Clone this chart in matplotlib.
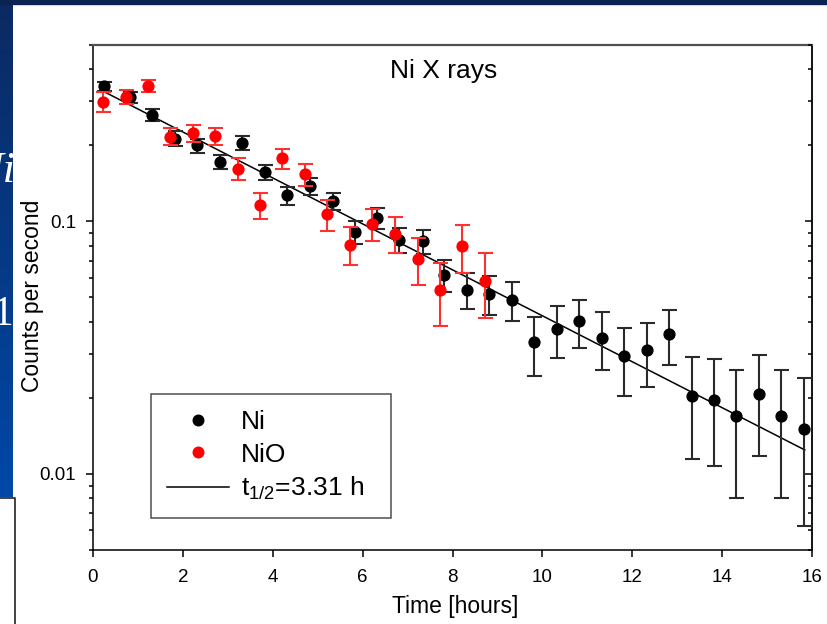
import numpy as np
import matplotlib
matplotlib.use("Agg")
import matplotlib.pyplot as plt
from matplotlib.lines import Line2D
from matplotlib.patches import Rectangle
from matplotlib.colors import LinearSegmentedColormap
from matplotlib.ticker import FixedLocator, FixedFormatter, LogLocator, NullFormatter

plt.rcParams['font.family'] = ['Liberation Sans', 'DejaVu Sans']
plt.rcParams['mathtext.fontset'] = 'custom'
plt.rcParams['mathtext.rm'] = 'Liberation Sans'
plt.rcParams['mathtext.it'] = 'Liberation Sans:italic'

# ---------------- data ----------------
ni_t = [0.25, 0.82, 1.31, 1.82, 2.31, 2.83, 3.32, 3.83, 4.32, 4.83, 5.33, 5.82,
        6.31, 6.82, 7.34, 7.82, 8.32, 8.82, 9.32, 9.82, 10.32, 10.82, 11.33,
        11.82, 12.32, 12.82, 13.32, 13.83, 14.31, 14.82, 15.32, 15.83]
ni_v = [0.343, 0.310, 0.264, 0.213, 0.200, 0.1725, 0.205, 0.157, 0.127, 0.138,
        0.1205, 0.091, 0.1035, 0.0848, 0.0835, 0.0616, 0.0537, 0.0517, 0.049,
        0.0332, 0.0375, 0.0402, 0.0347, 0.0292, 0.0309, 0.0358, 0.0203, 0.0197,
        0.0169, 0.0207, 0.0169, 0.0151]
ni_e = [0.014, 0.0155, 0.0143, 0.0145, 0.0126, 0.011, 0.0125, 0.011, 0.0104,
        0.0105, 0.0092, 0.0095, 0.0098, 0.0095, 0.009, 0.009, 0.0088, 0.0089,
        0.0088, 0.0088, 0.0088, 0.0087, 0.009, 0.0088, 0.0088, 0.0088, 0.0088,
        0.0089, 0.0089, 0.0089, 0.0089, 0.0089]

nio_t = [0.23, 0.73, 1.23, 1.71, 2.23, 2.71, 3.23, 3.72, 4.21, 4.72, 5.21, 5.72,
         6.21, 6.72, 7.23, 7.72, 8.22, 8.72]
nio_v = [0.2985, 0.311, 0.344, 0.217, 0.2234, 0.218, 0.162, 0.116, 0.1778,
         0.1536, 0.1066, 0.081, 0.098, 0.0894, 0.0711, 0.0537, 0.0798, 0.0583]
nio_e = [0.027, 0.0197, 0.019, 0.0168, 0.0173, 0.0175, 0.0165, 0.0135, 0.016,
         0.0157, 0.0152, 0.0137, 0.0143, 0.0144, 0.0152, 0.015, 0.0171, 0.017]

# fitted decay line (t1/2 = 3.31 h), end points
fit_t = [0.27, 15.84]
fit_v = [0.325, 0.01245]

xticks = [0, 2, 4, 6, 8, 10, 12, 14, 16]
yticks = [0.01, 0.1]
yticklabels = ['0.01', '0.1']
legend_labels = ['Ni', 'NiO', 't$_{1/2}$=3.31 h']
title = 'Ni X rays'

# ---------------- figure ----------------
W, H = 827, 624
fig = plt.figure(figsize=(W / 100, H / 100), dpi=100)
fig.patch.set_facecolor('white')

# slide decorations behind the chart
fig.patches.append(Rectangle((0, 1 - 4 / H), 1, 4 / H, transform=fig.transFigure,
                             color='#0b2252', zorder=0))
sax = fig.add_axes([0, (H - 497) / H, 13 / W, (497 - 4) / H])
grad = np.linspace(0, 1, 256).reshape(-1, 1)
cmap = LinearSegmentedColormap.from_list('slide', ['#0b2a62', '#0048a8'])
sax.imshow(grad, aspect='auto', cmap=cmap, extent=[0, 1, 0, 1], origin='upper')
sax.set_xlim(0, 1)
sax.set_ylim(0, 1)
sax.axis('off')
sax.text(1.15, 1 - (182 - 4) / 493, 'Ni', color='white', fontsize=32,
         family='Liberation Serif', style='italic', ha='right', va='baseline',
         clip_on=True)
sax.text(1.0, 1 - (325 - 4) / 493, '1', color='white', fontsize=30,
         family='Liberation Serif', ha='right', va='baseline', clip_on=True)
fig.add_artist(Line2D([0, 15 / W, 15 / W], [1 - 498 / H, 1 - 498 / H, 0],
                      transform=fig.transFigure, color='#222222', lw=1.2))

ax = fig.add_axes([93 / W, (H - 550) / H, 719 / W, 505 / H])
ax.set_yscale('log')
ax.set_xlim(0, 16)
ax.set_ylim(0.005, 0.5)

ax.plot(fit_t, fit_v, color='black', lw=1.1, zorder=2)
ax.errorbar(ni_t, ni_v, yerr=ni_e, fmt='o', color='black', mec='black', ms=7.8,
            ecolor='#2a2a2a', elinewidth=1.5, capsize=5.4, capthick=1.5, zorder=3)
ax.errorbar(nio_t, nio_v, yerr=nio_e, fmt='o', color='#ff0000', mec='#ff0000',
            ms=7.8, ecolor='#ff3030', elinewidth=1.5, capsize=5.4, capthick=1.5,
            zorder=4)

# axes styling
ax.set_xticks(xticks)
ax.set_xticklabels([str(v) for v in xticks])
ax.yaxis.set_major_locator(FixedLocator(yticks))
ax.yaxis.set_major_formatter(FixedFormatter(yticklabels))
ax.yaxis.set_minor_locator(LogLocator(base=10, subs=np.arange(2, 10)))
ax.yaxis.set_minor_formatter(NullFormatter())
ax.tick_params(axis='x', which='major', direction='out', length=5, width=1.1,
               labelsize=13.5, pad=8.5, top=False)
ax.tick_params(axis='y', which='major', direction='out', length=5, width=1.1,
               labelsize=13.5, pad=7, right=False)
ax.tick_params(axis='y', which='minor', direction='out', length=3, width=1.1,
               right=False)
for side in ['left', 'bottom']:
    ax.spines[side].set_linewidth(1.1)
    ax.spines[side].set_color('black')
ax.spines['right'].set_linewidth(1.3)
ax.spines['top'].set_linewidth(1.6)
ax.spines['top'].set_color('#505050')

ax2 = ax.twinx()
ax2.set_yscale('log')
ax2.set_ylim(ax.get_ylim())
ax2.yaxis.set_major_locator(FixedLocator(yticks))
ax2.yaxis.set_minor_locator(LogLocator(base=10, subs=np.arange(2, 10)))
ax2.yaxis.set_major_formatter(NullFormatter())
ax2.yaxis.set_minor_formatter(NullFormatter())
ax2.tick_params(axis='y', which='major', direction='in', length=5, width=1.1)
ax2.tick_params(axis='y', which='minor', direction='in', length=3, width=1.1)
for s in ax2.spines.values():
    s.set_visible(False)

ax.text(0.487, 0.9347, title, transform=ax.transAxes, ha='center',
        va='baseline', fontsize=19)

ax.set_xlabel('Time [hours]', fontsize=16.5, va='center')
ax.xaxis.set_label_coords((455 - 93) / 719, (550 - 607) / 505)
ax.set_ylabel('Counts per second', fontsize=16.5, va='center')
ax.yaxis.set_label_coords((32 - 93) / 719, (550 - 296) / 505)

handles = [Line2D([], [], ls='none', marker='o', color='black', ms=7.6),
           Line2D([], [], ls='none', marker='o', color='#ff0000', ms=7.6),
           Line2D([], [], color='black', lw=1.1)]
leg = ax.legend(handles, legend_labels, loc='lower left', mode='expand',
                bbox_to_anchor=((151 - 93) / 719, (550 - 518) / 505,
                                (391 - 151) / 719, (518 - 390) / 505),
                bbox_transform=ax.transAxes, borderaxespad=0, fontsize=19,
                frameon=True, fancybox=False, edgecolor='#222222',
                handlelength=2.35, handletextpad=0.45, labelspacing=0.32,
                borderpad=0.6)
leg.get_frame().set_linewidth(1.1)
leg.set_zorder(10)

fig.savefig('out.png', dpi=100, facecolor='white')
